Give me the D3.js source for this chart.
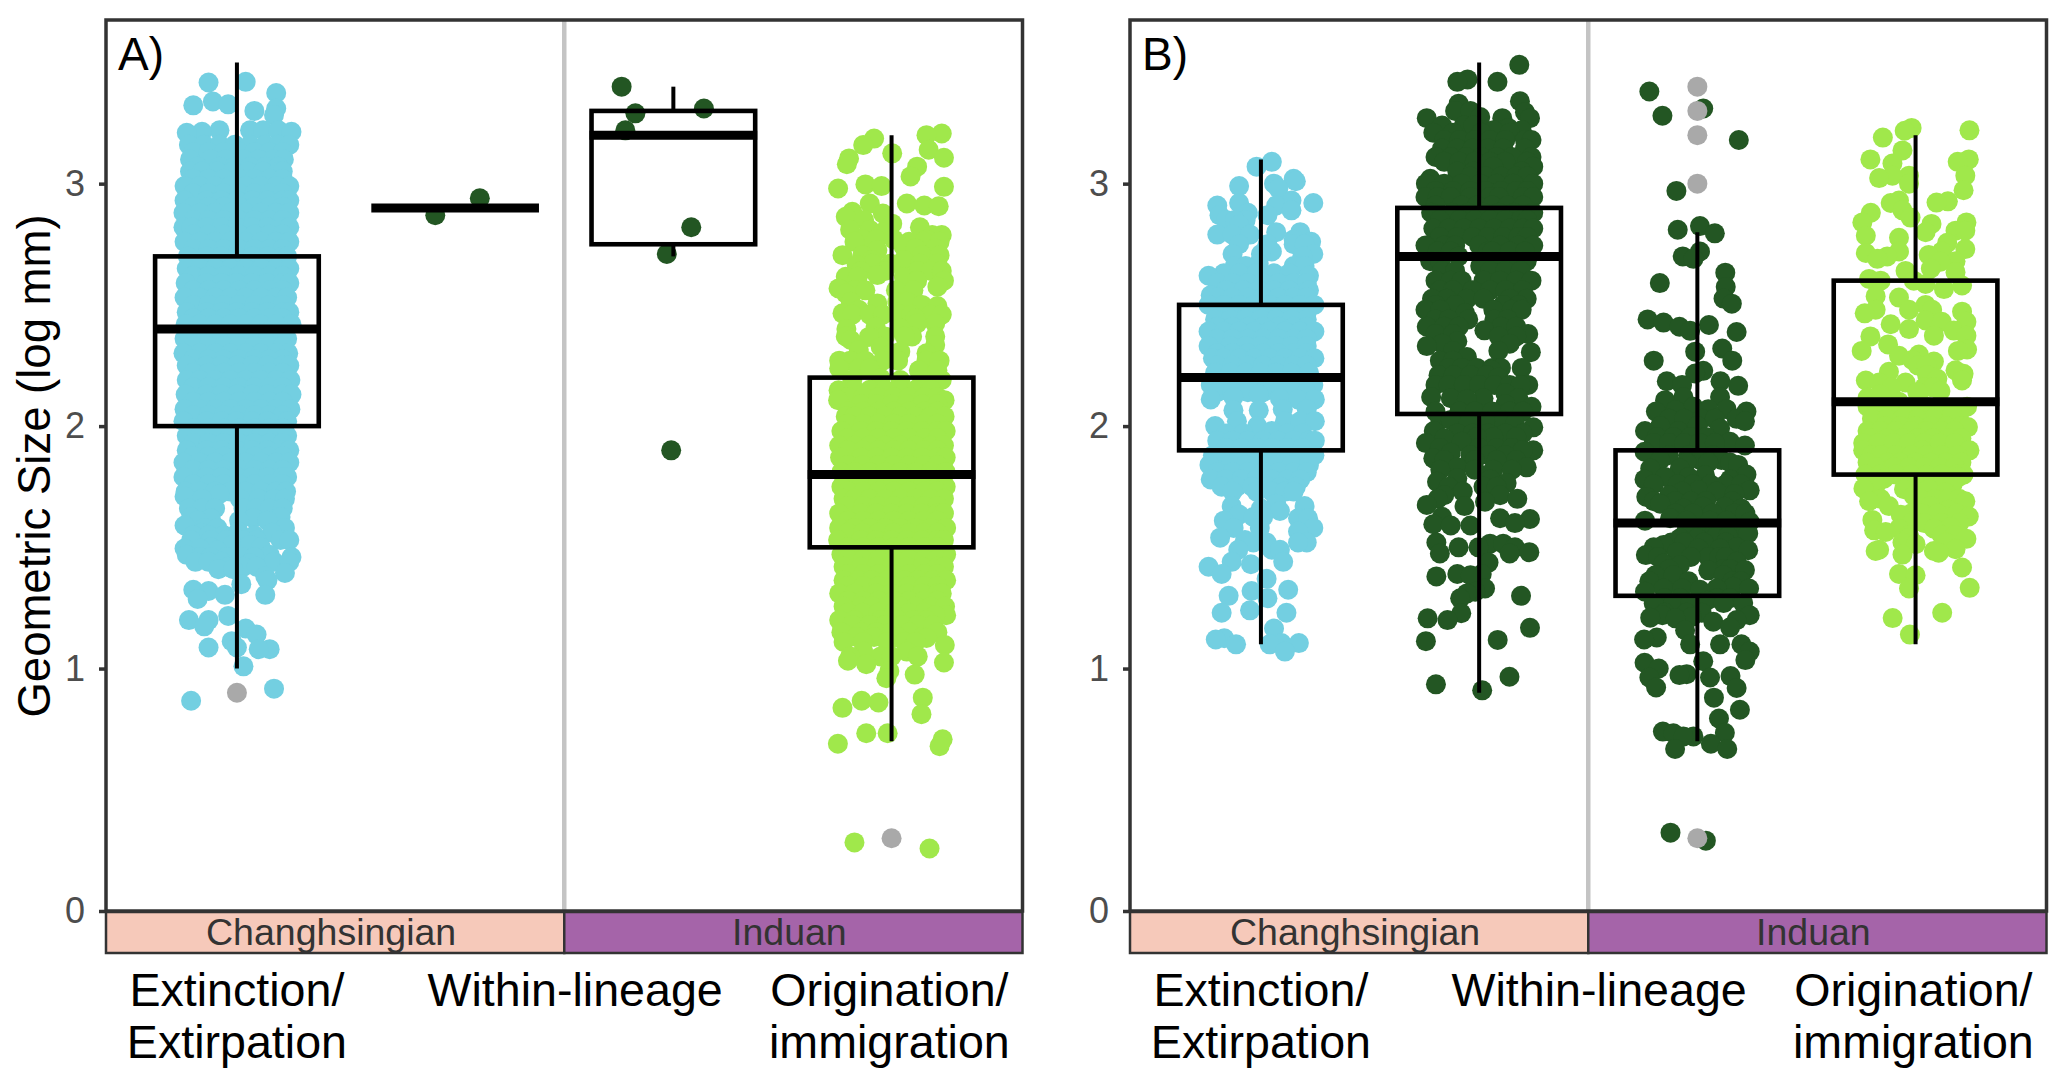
<!DOCTYPE html>
<html>
<head>
<meta charset="utf-8">
<title>Geometric size</title>
<script src="https://cdn.jsdelivr.net/npm/d3@7"></script>
<style>
    body { margin: 0; background: #fff; }
    text { font-family: "Liberation Sans", Arial, sans-serif; }
</style>
</head>
<body>
<svg id="chart"></svg>
<script>
//Constants
const yTicks = [0, 1, 2, 3];
const stages = ['Changhsingian', 'Induan'];
const stageColors = ['#f6c9ba', '#a564a9'];
const labelPositions = [1, 2.55, 3.99];
const categoryLabels = [['Extinction/', 'Extirpation'], ['Within-lineage'], ['Origination/', 'immigration']];
const blue = '#73cfe1', dark = '#235623', lime = '#a0e84b';

//Box stats, one value per group
const aLow = [1.0, null, 2.7, 0.7];
const aQ1 = [2.0, 2.9, 2.75, 1.5];
const aMed = [2.4, 2.9, 3.2, 1.8];
const aQ3 = [2.7, 2.9, 3.3, 2.2];
const aHigh = [3.5, null, 3.4, 3.2];
const aOutliers = [[1, 0.9], [4, 0.3]];

const bLow = [1.1, 0.9, 0.7, 1.1];
const bQ1 = [1.9, 2.05, 1.3, 1.8];
const bMed = [2.2, 2.7, 1.6, 2.1];
const bQ3 = [2.5, 2.9, 1.9, 2.6];
const bHigh = [3.1, 3.5, 2.8, 3.2];
const bOutliers = [[3, 3.4], [3, 3.3], [3, 3.2], [3, 3.0], [3, 0.3]];

//Points: [size, jitter %, jitter %, ...]
const aExtinction = [
    [3.42, 4], [3.417, -13], [3.374, 18], [3.339, -11], [3.327, -4], [3.323, -20], [3.31, 18], [3.3, 8], [3.283, 17],
    [3.22, -8, 6, 12, 19], [3.214, -16, 25], [3.21, -23], [3.16, -22, -15, -8, -1, 6, 13, 19, 24],
    [3.13, -20, -13, -6, 1, 8, 15, 21], [3.1, -21.5, -12, -5, 3, 10, 17, 21.5], [3.07, -18, -8, -1, 6, 13, 19],
    [3.05, -21.5, -16, -9, -2, 5, 12, 19, 21], [3.02, -20, -13, -6, 1, 8, 15, 21],
    [2.99, -24, -17, -10, -3, 4, 11, 18, 24], [2.96, -20, -13, -6, 1, 8, 15, 21], [2.93, -24, -14, -7, 0, 7, 14, 21, 24],
    [2.905, -20, -13, -6, 1, 8, 15, 21], [2.88, -24.5, -17, -10, -3, 4, 11, 18, 24], [2.85, -20, -13, -6, 1, 8, 15, 21],
    [2.82, -24.5, -21, -14, -7, 0, 7, 14, 21, 24], [2.79, -20, -13, -6, 1, 8, 15, 21],
    [2.76, -24, -17, -10, -3, 4, 11, 18, 24], [2.73, -20, -13, -6, 1, 8, 15, 21], [2.7, -22.5, -14, -7, 0, 7, 14, 21, 23],
    [2.675, -20, -13, -6, 1, 8, 15, 21], [2.65, -23, -17, -10, -3, 4, 11, 18, 24], [2.62, -20, -13, -6, 1, 8, 15, 21],
    [2.59, -23.5, -14, -7, 0, 7, 14, 21, 24], [2.56, -20, -13, -6, 1, 8, 15, 21],
    [2.53, -24, -17, -10, -3, 4, 11, 18, 23], [2.5, -20, -13, -6, 1, 8, 15, 21], [2.47, -23, -14, -7, 0, 7, 14, 21, 24],
    [2.445, -20, -13, -6, 1, 8, 15, 21], [2.42, -23.5, -17, -10, -3, 4, 11, 18, 25], [2.39, -20, -13, -6, 1, 8, 15, 21],
    [2.36, -24, -14, -7, 0, 7, 14, 21, 23], [2.33, -20, -13, -6, 1, 8, 15, 21],
    [2.3, -24.5, -17, -10, -3, 4, 11, 18, 23.5], [2.275, -20, -13, -6, 1, 8, 15, 21], [2.25, -23, -14, -7, 0, 7, 14, 21, 24],
    [2.22, -20, -13, -6, 1, 8, 15, 21], [2.19, -23, -17, -10, -3, 4, 11, 18, 24.5], [2.16, -20, -13, -6, 1, 8, 15, 21],
    [2.13, -23.5, -14, -7, 0, 7, 14, 21, 25], [2.1, -20, -13, -6, 1, 8, 15, 21],
    [2.07, -24, -17, -10, -3, 4, 11, 18, 24.5], [2.045, -20, -13, -6, 1, 8, 15, 21], [2.02, -24.5, -14, -7, 0, 7, 14, 21, 23],
    [1.99, -20, -13, -6, 1, 8, 15, 21], [1.96, -23, -17, -10, -3, 4, 11, 18, 23], [1.93, -20, -13, -6, 1, 8, 15, 21],
    [1.9, -23, -14, -7, 0, 7, 14, 21, 24], [1.875, -20, -13, -6, 1, 8, 15, 21],
    [1.85, -24.5, -17, -10, -3, 4, 11, 18, 24], [1.82, -20, -13, -6, 1, 8, 15, 21], [1.79, -24.5, -14, -7, 0, 7, 14, 21, 23],
    [1.76, -20, -13, -6, 1, 8, 15, 21], [1.73, -23.5, -17, -10, -3, 4, 11, 18, 22.5], [1.72, -8],
    [1.71, -24], [1.7, -16, 1.4, 10, 17, 22], [1.66, -22, -16, -10, 3, 9, 15, 21], [1.625, -21, 20], [1.62, 7.5, -12], [1.61, 14, 1, -18],
    [1.59, -24], [1.58, -15, -9, 22], [1.565, 0.6], [1.56, -16, 16], [1.55, -20, -13, -6, 1, 8], [1.53, 20, -21, -12, -5, 3, 9, 24], [1.51, -2, 6],
    [1.5, -12, 11], [1.495, -24, -17], [1.487, -9], [1.469, -23, 15], [1.46, 25, -17, -12, -5, 2, 8], [1.44, -19, -13, -7, 17, 24], [1.434, 6], [1.42, -4, 3, 9], [1.41, -8.5, -1.7],
    [1.394, 22], [1.38, 13], [1.365, 14], [1.348, 2], [1.325, -20],
    [1.32, -13], [1.304, -5.5, 13], [1.287, -18], [1.217, -4], [1.2, -22, -13], [1.174, -15], [1.165, 4], [1.14, 9],
    [1.113, -2.4], [1.087, 0, -13], [1.08, 15, 10], [1.009, 3], [0.917, 17], [0.867, -21]
];

const aWithinLate = [[2.94, 11.3], [2.87, -9.1]];

const aWithinEarly = [[3.4, -23.7], [3.31, 14], [3.29, -17.4], [3.22, -22], [2.82, 8.2], [2.71, -3], [1.9, -1]];

const aOrigination = [
    [3.207, 23], [3.2, 16], [3.186, -8], [3.159, -13], [3.14, 17], [3.125, 0.3], [3.107, 24], [3.104, -19.5],
    [3.08, -20.5], [3.07, 11.7], [3.03, 8.7], [2.997, -12], [2.99, -4.6], [2.987, 24], [2.98, -24.5], [2.918, -10, 7],
    [2.91, 15], [2.907, 21.6], [2.884, -18], [2.877, -4], [2.863, -21], [2.85, -12.6], [2.835, 0.3], [2.82, 13],
    [2.81, -19, -10], [2.8, -4], [2.788, 23, 18.6], [2.77, -13, -7, 1, 16], [2.76, -17, 8, 15, 22], [2.74, 5.6], [2.733, 11, 20], [2.726, -6.5],
    [2.705, -22.5, -13.4, 14, 22], [2.685, 5.6, -9], [2.67, 21, -9, 13, -0.5], [2.664, -16], [2.64, -14, -3, 12, 18, 23], [2.623, -6.5],
    [2.616, -21, -15.5, 5.6], [2.6, 11.7, 24], [2.575, 21], [2.568, -24.3], [2.56, -17, -12, 2, 10], [2.547, -21],
    [2.513, -18.7, 2.6, 7], [2.506, -6.5], [2.5, 14], [2.495, 21], [2.48, -15], [2.465, -22.5], [2.46, -18, -10, -4, 4, 9, 18, 23],
    [2.444, 11], [2.423, 20, 11.7], [2.41, -7.3], [2.403, 4], [2.4, -20.7], [2.37, 9.4, -21, -8, -3, 6, 20],
    [2.368, -10.4], [2.355, -18.7], [2.334, 20], [2.327, -5], [2.314, -15], [2.307, 4], [2.3, 0.3, 16],
    [2.27, -24, -19, -12, -4, 3, 16, 22], [2.238, -24, -15, -10], [2.23, 12.5, 21], [2.197, -5], [2.19, 4, 23, 14, -18], [2.148, -24.3],
    [2.15, -17, -10, -3, 4, 11, 18], [2.12, -20, -13, -6, 1, 8, 15, 21], [2.107, -24.5, 24.3], [2.09, -14, -7, 0, 7, 14, 21],
    [2.06, -20, -13, -6, 1, 8, 15, 21], [2.04, -21, -17, -10, -3, 4, 11, 18, 24.3], [2.01, -20, -13, -6, 1, 8, 15, 21],
    [1.98, -23, -14, -7, 0, 7, 14, 21, 24.8], [1.95, -20, -13, -6, 1, 8, 15, 21], [1.92, -24, -17, -10, -3, 4, 11, 18, 24],
    [1.9, -20, -13, -6, 1, 8, 15, 21], [1.87, -23.6, -14, -7, 0, 7, 14, 21, 24.8], [1.84, -20, -13, -6, 1, 8, 15, 21],
    [1.81, -23, -17, -10, -3, 4, 11, 18, 24.8], [1.78, -20, -13, -6, 1, 8, 15, 21], [1.75, -23, -14, -7, 0, 7, 14, 21, 24.8],
    [1.73, -20, -13, -6, 1, 8, 15, 21], [1.7, -22, -17, -10, -3, 4, 11, 18, 24], [1.67, -20, -13, -6, 1, 8, 15, 21],
    [1.64, -24, -14, -7, 0, 7, 14, 21, 24], [1.61, -20, -13, -6, 1, 8, 15, 21], [1.58, -24, -17, -10, -3, 4, 11, 18, 25],
    [1.56, -20, -13, -6, 1, 8, 15, 21], [1.53, -24.5, -14, -7, 0, 7, 14, 21, 24], [1.5, -20, -13, -6, 1, 8, 15, 21],
    [1.47, -23, -17, -10, -3, 4, 11, 18, 25], [1.45, -20, -13, -6, 1, 8, 15, 21], [1.42, -22, -14, -7, 0, 7, 14, 21, 24],
    [1.39, -20, -13, -6, 1, 8, 15, 21], [1.364, -22, -15, -9, -2, 6, 12, 19, 25], [1.34, -20, -13, -6, 1, 8, 15, 21],
    [1.31, -24, -17, -7, 0, 7, 14, 21, 23], [1.28, -20, -13, -6, 1, 8, 15, 21], [1.256, -22, -14, -9, -2, 4, 11, 18, 24.5],
    [1.23, -20, -13, -6, 1, 8, 15], [1.22, 25, 20], [1.2, -24, -17, -5, 3, 10, 16], [1.18, -18, -10, -3, 5, 12, 19],
    [1.15, -23, -14, -7, 0, 8, 21], [1.13, -16, -8, 3, 14], [1.126, 16], [1.11, -22, -13, -2, 6, 11], [1.097, 24.4], [1.07, -13, 7],
    [1.05, -19, -5, 0, 12], [1.032, -20], [1.025, 24], [1.018, -11.6], [0.99, -1], [0.975, 10.6], [0.96, -2.4], [0.88, 14.3],
    [0.867, -13.7], [0.86, -6], [0.838, -22.5], [0.812, 13.7], [0.733, -11.6, -1.8], [0.708, 23.4], [0.69, -24.6], [0.68, 22],
    [0.283, -17], [0.258, 17.4]
];

const bExtinction = [
    [3.09, 5], [3.07, -2], [3.02, 15], [3.01, 16], [3.0, 6], [2.99, -10], [2.98, 8], [2.93, 14], [2.92, 24, -10],
    [2.91, 7, -20], [2.89, 14], [2.88, -6], [2.87, 3, -19], [2.85, -16, -7, -12], [2.83, -10], [2.8, 7, 18], [2.79, -20, -13, -5], [2.77, 15],
    [2.76, 23], [2.75, -10, 3, 15, 20], [2.72, 5], [2.71, 24, -13, 0], [2.7, 19], [2.67, -1], [2.66, -12, -7, 15, 20],
    [2.63, -17, -10, -2, 6, 13], [2.62, -24, 22], [2.59, -20, -13, -6, 1, 8, 15, 21], [2.56, -16, -8, -1, 6, 13, 22], [2.54, -23],
    [2.53, -20, -13, -6, 1, 8, 15, 21], [2.5, -24, -17, -10, -3, 4, 11, 18, 24.5], [2.47, -20, -13, -6, 1, 8, 15, 21],
    [2.44, -21, -14, -7, 0, 7, 14, 21], [2.41, -20, -13, -6, 1, 8, 15, 21], [2.39, -24, -17, -10, -3, 4, 11, 18, 24.5],
    [2.36, -20, -13, -6, 1, 8, 15, 21], [2.33, -24, -14, -7, 0, 7, 14, 21], [2.3, -20, -13, -6, 1, 8, 15, 21],
    [2.28, -22, -17, -10, -3, 4, 11, 18, 24.5], [2.25, -20, -13, -6, 1, 8, 15, 21], [2.22, -21, -14, -7, 0, 7, 14, 22],
    [2.19, -20, -13, -6, 1, 8, 15, 21], [2.17, -23, -17, -10, -3, 4, 11, 18, 24], [2.14, -20, -13, -6, 1, 8, 15, 21],
    [2.13, -1], [2.12, -12.6], [2.115, 8.7], [2.11, -23, 17, 24.7], [2.07, 10, 21], [2.065, -1, -12.6],
    [2.02, -11, 11, 18, 24.7], [2.0, -21, -1.7], [1.98, 5], [1.97, -16, -8, 12, 19], [1.94, -20, -13, -6, 1, 8, 15, 22, 24.7],
    [1.91, -16, -9, -2, 5, 12, 19], [1.88, -22, -17, -10, -3, 4, 11, 18, 24.5], [1.86, -20, -10, -3, 4, 11, 18],
    [1.84, -23.6, -14, -7, 0, 7, 14, 22], [1.81, -20, -13, -6, 1, 8, 15, 21], [1.78, -23, -16, -9, -2, 5, 12, 18],
    [1.75, -18, -11, -4, 3, 9, 16], [1.73, -13, -2, 5, 11, 15], [1.68, 7], [1.67, -13.4, 20], [1.66, 0], [1.65, 8.7], [1.635, -10], [1.625, -3.5, 1],
    [1.62, 17, 21.6], [1.61, -17], [1.58, -12.5, 24, -0.5], [1.565, 17], [1.54, -18.7], [1.53, -7.3], [1.52, 21, -3.5, 2.6, 17],
    [1.49, 5, 8.7, -10.4], [1.44, 10.2, -13.4], [1.43, -4.6], [1.42, -24], [1.39, -18], [1.37, 2.6], [1.325, 12.5],
    [1.32, -4.3], [1.3, -14.8], [1.29, 3], [1.24, -5], [1.23, -18, 11.7], [1.165, 6], [1.125, -16.8], [1.12, -20.7],
    [1.105, 9.4, 17.4], [1.1, -11.4, 4], [1.07, 11]
];

const bWithinLate = [
    [3.49, 18.4], [3.43, -5.3], [3.42, -10, 8.4], [3.34, 18.7], [3.33, -9.4], [3.3, -11, -4], [3.295, 21], [3.275, 0.5],
    [3.27, -24, 10.6, 23.3], [3.24, -17, -7, -2.6], [3.23, 13.4], [3.22, 6.5, 19.5], [3.21, -21, -12, 1, 14],
    [3.18, -16, -9, -2, 5, 12, 21, 24], [3.145, -17, -10, -3, 4, 11, 21], [3.11, -20, -13, -6, 1, 8, 15, 24],
    [3.09, -16, -9, -2, 5, 12, 22], [3.07, 6.5, 24.8], [3.05, -10, -2.6, 19.5], [3.03, -4, 3, 10, 17, 22],
    [3.02, -22.4], [3.0, -24.4, -16, -8, 0.5, 8, 15.7, 24.8], [2.97, -20, -12, -4, 3, 10, 17, 22],
    [2.945, -24.6, -19, -13, -4, 5, 9, 20, 24.8], [2.91, -20, -8, -1, 6, 13, 20],
    [2.88, -22, -12.6, -5, 2, 9, 16, 24.8], [2.85, -18, -9, -2, 5, 12, 19, 22], [2.815, -21, -14, -7, 0, 7, 14, 20, 24.8],
    [2.78, -18, -10, -3, 4, 11, 18, 22], [2.745, -24.6, -16, -11, 0, 9.6, 18, 24.8], [2.72, -19, -13, 4, 6, 14, 21], [2.7, -9.4],
    [2.68, -22.4, -17.8, 8, 15.7, 21.8], [2.66, 0.5], [2.64, -17, -11, 5, 12, 19],
    [2.6, -20, -13, -8, 2, 9.6, 17, 24], [2.56, -18, -12, -3, 5, 12, 20], [2.525, -21.6, -14.8, -5.6, 2, 14, 21.8],
    [2.5, -20, -11, 11, 18], [2.48, -24.6, -17.8, 6.5, 15, 19.5],
    [2.465, -6.4], [2.44, -20, -14, -5, 7, 13], [2.41, -24, -16, -9.4, 10, 17], [2.395, 2.4], [2.38, 22.5, -20, -12], [2.37, 17, 9], [2.35, -10], [2.34, -17, 14],
    [2.33, -24], [2.31, 8.8, -12], [2.305, 23.7], [2.285, -5.6], [2.27, -18, -12], [2.24, 19.5, -14, -8, -1, 6, 10], [2.23, 5.8],
    [2.21, -18.6, -11.7, -4, 3.5], [2.2, 8.8], [2.17, 22.5, -20, -14, -7, 0, 7, 14, 19], [2.135, 12], [2.12, -22], [2.115, -13, 2, 18], [2.11, -5.6],
    [2.09, 12], [2.08, 24], [2.06, -20, -9, -2, 6, 14, 20], [2.025, -17.8, -13, 10], [2.02, 2.7], [2.01, -5, 16.4], [1.995, 24.8], [1.98, -20.8],
    [1.97, -10, -3, 4, 12, 20], [1.955, 17, 6.5, -1], [1.95, -16], [1.935, -8], [1.93, -24.4], [1.91, -18, 0, 8, 15], [1.9, 24.8, 20], [1.89, -13], [1.88, -4, 4.3, 12],
    [1.867, -21], [1.86, -16, -2, 8, 17], [1.83, 21.8, -10], [1.82, -17.8, -2, 6.5, 15], [1.785, -10], [1.78, 5], [1.77, -19.3], [1.765, 12.6],
    [1.75, -14, 2, 8], [1.73, -7.5], [1.715, -16, 9.6], [1.7, -19, 17.5], [1.688, 2.7], [1.675, -24], [1.67, -6.7], [1.626, -17], [1.62, 9.6],
    [1.617, 23.3], [1.6, 16.4], [1.595, -21], [1.59, -13, -4], [1.52, -19.6], [1.515, 5, 11], [1.5, -9.4, -0.3, 16.4],
    [1.48, 23], [1.475, -18, 14], [1.437, 4.3], [1.39, -10, 1.2], [1.385, -4], [1.38, -19.6], [1.33, 2.7], [1.317, -1.8],
    [1.31, -5.6], [1.3, 19.2], [1.29, -8.7], [1.228, -8.2], [1.207, -23.6], [1.2, -14.5], [1.168, 23.3], [1.118, 8.5],
    [1.113, -24.4], [0.966, 13.9], [0.935, -19.8], [0.91, 1.4]
];

const bWithinEarly = [
    [3.38, -22], [3.31, 2.7], [3.28, -16], [3.18, 19], [2.97, -9.6], [2.825, 1.2], [2.81, -9], [2.795, 8],
    [2.72, 1.2], [2.7, -6.7], [2.69, -1.8], [2.633, 12.8], [2.59, -17.2], [2.574, 13], [2.526, 12], [2.505, 15.8],
    [2.44, -22.8], [2.427, -15.5], [2.417, 5.3], [2.41, -8.2], [2.393, -3.3], [2.388, 18], [2.32, 11.4], [2.307, -1],
    [2.27, 16, -20], [2.228, 2.7], [2.217, -1], [2.185, -14, 10.6], [2.17, -7], [2.166, 18.7], [2.12, 10.4, -6.4],
    [2.107, -14.8], [2.08, -1.8], [2.07, 13.4, 5], [2.065, -10], [2.06, 22.5, -19], [2.03, 18, -13, -6, 2, 8], [2.02, 21.8],
    [2.0, -17, 0], [1.99, 10.4], [1.98, -24, -8.7], [1.955, -18.6, -11, -3.3, 4], [1.935, 15], [1.93, -20, -13, -6, 1, 8], [1.92, 21.8], [1.894, -24.2],
    [1.88, -13, -4, 7], [1.86, -17, 1.2, 11], [1.85, -5, 5, 15], [1.84, 18.7], [1.825, -21.6, -8], [1.8, 22.5], [1.797, 3.5], [1.79, -14.8, -4],
    [1.78, -24.2, 15], [1.76, -20, -9, -2, 6, 13, 20], [1.735, 0.5, 24], [1.73, -7, 8.8], [1.72, 17], [1.715, -13], [1.708, -23.4], [1.69, -20, -10, -3, 4, 16], [1.68, -17],
    [1.667, 2.7, 12.6], [1.66, -6.4, 20.2], [1.64, -10, -2, 7, 17, 22], [1.62, -12.5], [1.61, -24, -5, 5.8, 13.4], [1.605, 24], [1.57, -5, 2, 8, 14, 20], [1.557, 23.3],
    [1.545, 8.8, 14], [1.537, -8, 0], [1.52, -12, -6, 3, 13], [1.51, -15.5], [1.5, -20, 18], [1.495, 0.5, 10.4], [1.488, 23.3], [1.48, -9.4],
    [1.468, -23.6], [1.46, 5, -18, -3, 10, 13], [1.44, 18], [1.433, -15.5], [1.426, -8], [1.41, -13, 12, 15], [1.406, 21.8], [1.405, 5], [1.385, -19.3, -11, 12],
    [1.36, -22, -4, 16, 20], [1.337, 16.4], [1.33, -15.5, -7, 8.8, 23.7], [1.325, 1.2], [1.317, -24], [1.29, -15, -8, 9, 15], [1.28, 4.3], [1.27, -11, -3.3, 21, 12],
    [1.268, -20], [1.23, -15, -5, 2], [1.22, 24, -16], [1.213, -2.6], [1.21, -21.6], [1.207, -10], [1.2, 18], [1.193, 7.3], [1.17, 15],
    [1.158, -5.6], [1.128, -18.6], [1.12, -24.4], [1.1, -3.3, 10.4, 20.2], [1.07, 24], [1.035, 22], [1.03, 2.7],
    [1.024, -24.2], [1.0, -17.7], [0.977, -4.9], [0.973, -8.2], [0.969, 15.2], [0.963, -22, 5.8], [0.922, -18.9],
    [0.92, 18], [0.88, 7.6], [0.83, 19.5], [0.794, 9.9], [0.74, -15.8], [0.735, 12.6], [0.733, -11], [0.72, -1.8, -6.4],
    [0.69, 6.2], [0.668, -10.2, 13.7], [0.323, -12.3], [0.29, 3.9]
];

const bOrigination = [
    [3.23, -1.8], [3.22, 24.7], [3.218, -5], [3.19, -15], [3.137, -6], [3.1, -20.7, 24.4], [3.09, 19.3], [3.083, -10.6],
    [3.033, -3, -10.6, 22.8], [3.023, -16.7], [3.0, -3], [2.973, 22], [2.93, -7.6], [2.927, 14.8], [2.922, 9.6],
    [2.92, -11.4], [2.89, -6], [2.88, -20.5], [2.86, -2.3], [2.84, -24.4, 23.3], [2.834, 7.3], [2.806, 18.3, 22.8],
    [2.8, 4.6], [2.785, -22.8], [2.777, -7.6], [2.756, 14.5], [2.73, 22.8], [2.72, -7.6, 12], [2.714, -22.8], [2.706, 6],
    [2.7, -13], [2.69, -17.5], [2.68, 18.3], [2.678, 11.4], [2.65, 7], [2.64, -4.6], [2.635, 18.3], [2.607, -21.3],
    [2.6, -16, -0.8], [2.586, 4.6], [2.58, 21.3], [2.565, 13], [2.536, -18.3], [2.53, -7.6], [2.5, 4.6], [2.48, -18.3, -3, 7.6],
    [2.472, 21.3], [2.465, -23.3], [2.436, 4.6], [2.43, 12, 23.3], [2.42, -11.4], [2.4, -3], [2.394, 17.5], [2.373, 8.4, 23.3],
    [2.37, -20.7], [2.337, -12.6], [2.316, 23.6], [2.31, -24.7, 19.4], [2.295, 1.5], [2.29, -7.6], [2.273, -1.5], [2.266, 8.4],
    [2.25, 1, 5], [2.23, 18.3], [2.224, -12.2], [2.216, 22], [2.21, 5.3], [2.195, 10], [2.188, -22.8, 21.3], [2.18, -16.7, -4.6], [2.16, 4, 8, -11],
    [2.145, 11.4], [2.14, 0.8], [2.13, -16], [2.117, -22], [2.1, -7.6], [2.08, -22, -15, -2, 5, 12, 23.6], [2.05, -18, -11, -4, 3, 10, 20], [2.046, 16.7],
    [2.03, -20, -13, -6, 1, 8], [2.0, -14, -7, 0, 7, 14, 21], [1.996, 24], [1.98, -22, -16, -9, -2, 5, 12, 18], [1.95, -21, -13, -6, 1, 8, 15, 21],
    [1.93, -24, -17, -10, -3, 4, 11, 18], [1.9, -24, 3, 24.7], [1.88, -20, -16, -9, -2, 5, 12, 19], [1.85, -22, -13, -7, 0, 7, 14, 21],
    [1.83, -18, -10, -3, 4, 11, 18], [1.8, -23, -16, -9, -2, 5, 12, 19, 22], [1.79, 19.8], [1.783, -14.5],
    [1.776, -0.8], [1.76, -18, 5, 12, 17], [1.743, -23.9], [1.74, -5.3, 6], [1.726, 13.7], [1.712, -0.8], [1.7, -16, 2, 9, 15, 20], [1.69, -21.3, 22.8], [1.67, -12.2, 6.8],
    [1.655, 15.2], [1.64, -2, 3, 10, 19], [1.634, -6.8], [1.627, 24.4], [1.613, -19.8], [1.6, -2, 4, 12, 20], [1.584, 16], [1.577, -7.6, 8.4], [1.57, -19], [1.563, -13.7],
    [1.55, -3, 12, 18], [1.54, -3], [1.535, 23.3], [1.52, -6, 14], [1.513, 0], [1.492, 18.3], [1.49, -16.7], [1.485, -18.3, 8.4], [1.478, 10.6], [1.47, -6],
    [1.417, 21.3], [1.39, -7.6], [1.385, 0], [1.333, 24.8], [1.33, -3], [1.23, 12.2], [1.208, -10.5], [1.14, -2.6]
];

const aPoints = [aExtinction, aWithinLate, aWithinEarly, aOrigination];
const bPoints = [bExtinction, bWithinLate, bWithinEarly, bOrigination];
const groupColors = [blue, dark, dark, lime];

const svg = d3.select('#chart')
    .attr('width', 2067)
    .attr('height', 1088)
    .style('display', 'block');

const y = d3.scaleLinear().domain([0, 3.675]).range([911, 20]);

const drawPanel = (left, title, points, low, q1, med, q3, high, outliers) => {
    const right = left + 916.5;
    const x = d3.scaleLinear().domain([0.4, 4.6]).range([left, right]);
    const group = svg.append('g');

    //Period divider
    group.append('line')
        .attr('x1', x(2.5)).attr('x2', x(2.5))
        .attr('y1', y.range()[1]).attr('y2', y(0))
        .attr('stroke', '#c4c4c4')
        .attr('stroke-width', 4.5);

    //Jittered points
    points.forEach((rows, i) => {
        const flat = rows.flatMap(([value, ...jitters]) => jitters.map(j => ({ value, j })));
        group.append('g').selectAll('circle')
            .data(flat)
            .enter().append('circle')
            .attr('cx', d => x(i + 1 + d.j / 100))
            .attr('cy', d => y(d.value))
            .attr('r', 10)
            .attr('fill', groupColors[i]);
    });

    group.selectAll('.outlier')
        .data(outliers)
        .enter().append('circle')
        .attr('class', 'outlier')
        .attr('cx', d => x(d[0]))
        .attr('cy', d => y(d[1]))
        .attr('r', 10)
        .attr('fill', '#a9a9a9');

    //Boxes
    const boxes = d3.range(4);
    const halfWidth = 0.375;
    boxes.forEach(i => {
        const c = i + 1;
        if (high[i] !== null) {
            [[high[i], q3[i]], [q1[i], low[i]]].forEach(([from, to]) => {
                group.append('line')
                    .attr('x1', x(c)).attr('x2', x(c))
                    .attr('y1', y(from)).attr('y2', y(to))
                    .attr('stroke', '#000')
                    .attr('stroke-width', 4);
            });
        }
        if (q3[i] > q1[i]) {
            group.append('rect')
                .attr('x', x(c - halfWidth))
                .attr('y', y(q3[i]))
                .attr('width', x(c + halfWidth) - x(c - halfWidth))
                .attr('height', y(q1[i]) - y(q3[i]))
                .attr('fill', 'none')
                .attr('stroke', '#000')
                .attr('stroke-width', 4.6);
        }
        group.append('line')
            .attr('x1', x(c - halfWidth) - 2).attr('x2', x(c + halfWidth) + 2)
            .attr('y1', y(med[i])).attr('y2', y(med[i]))
            .attr('stroke', '#000')
            .attr('stroke-width', 9);
    });

    //Panel border
    group.append('rect')
        .attr('x', left)
        .attr('y', y.range()[1])
        .attr('width', right - left)
        .attr('height', y(0) - y.range()[1])
        .attr('fill', 'none')
        .attr('stroke', '#333')
        .attr('stroke-width', 3.5);

    //Y axis
    const axis = group.append('g')
        .attr('transform', 'translate(' + left + ',0)')
        .call(d3.axisLeft(y).tickValues(yTicks).tickFormat(d3.format('d')).tickSize(7).tickPadding(14));
    axis.select('.domain').remove();
    axis.selectAll('line').attr('stroke', '#333').attr('stroke-width', 3.5);
    axis.selectAll('text').attr('fill', '#4d4d4d').style('font-size', '36px');

    //Stage strip
    stages.forEach((stage, i) => {
        const x0 = x(i === 0 ? 0.4 : 2.5);
        const x1 = x(i === 0 ? 2.5 : 4.6);
        group.append('rect')
            .attr('x', x0).attr('y', 912)
            .attr('width', x1 - x0).attr('height', 41)
            .attr('fill', stageColors[i])
            .attr('stroke', '#333')
            .attr('stroke-width', 2.5);
        group.append('text')
            .attr('x', (x0 + x1) / 2 - 4)
            .attr('y', 945)
            .attr('text-anchor', 'middle')
            .attr('fill', '#333')
            .style('font-size', '37.5px')
            .text(stage);
    });

    //Category labels
    categoryLabels.forEach((lines, i) => {
        lines.forEach((line, k) => {
            group.append('text')
                .attr('x', x(labelPositions[i]))
                .attr('y', 1006 + k * 52)
                .attr('text-anchor', 'middle')
                .attr('fill', '#000')
                .style('font-size', '46.6px')
                .text(line);
        });
    });

    //Panel tag
    group.append('text')
        .attr('x', left + 12)
        .attr('y', 70)
        .attr('fill', '#000')
        .style('font-size', '46px')
        .text(title);
};

drawPanel(106, 'A)', aPoints, aLow, aQ1, aMed, aQ3, aHigh, aOutliers);
drawPanel(1130, 'B)', bPoints, bLow, bQ1, bMed, bQ3, bHigh, bOutliers);

svg.append('text')
    .attr('transform', 'translate(50,466) rotate(-90)')
    .attr('text-anchor', 'middle')
    .attr('fill', '#000')
    .style('font-size', '45.5px')
    .text('Geometric Size (log mm)');
</script>
</body>
</html>
